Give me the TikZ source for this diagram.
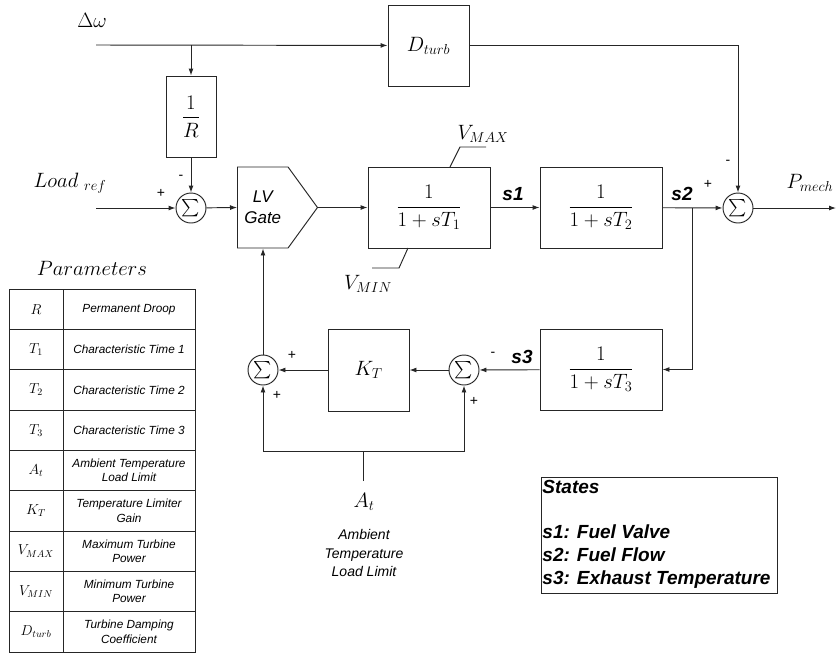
\documentclass[tikz,border=0pt]{standalone}
\usepackage{amsmath}
\usepackage{fontspec}
\setsansfont{Liberation Sans}
\usetikzlibrary{arrows.meta,shapes.symbols}

\begin{document}
\begin{tikzpicture}[
    x=1pt, y=-1pt,
    line width=0.95pt,
    draw=black!85,
    block/.style={draw=black!85, minimum width=122pt, minimum height=81pt, inner sep=0pt, font=\fontsize{20}{24}\selectfont},
    sumnode/.style={circle, draw=black!85, minimum size=30pt, inner sep=0pt, font=\fontsize{16}{16}\selectfont},
    sgn/.style={font=\sffamily\fontsize{14}{14}\selectfont},
    lbl/.style={font=\fontsize{20}{24}\selectfont},
    stateline/.style={font=\sffamily\bfseries\itshape\fontsize{19}{23}\selectfont},
    param/.style={font=\sffamily\itshape\fontsize{11.8}{14.5}\selectfont, align=center},
    >={Latex[length=7pt,width=5pt]}
]
\useasboundingbox (0,0) rectangle (836,654);

% ======================
% Upper path
% ======================
\node[lbl] (dwlabel) at (92,20) {$\Delta\omega$};
\coordinate (dwin) at (96,45);
\coordinate (jdroop) at (191,45);
\node[block, minimum width=81pt] (Dturb) at (428.5,45.5) {$D_{turb}$};
\node[block, minimum width=50pt] (invR) at (191,116.5) {$\dfrac{1}{R}$};

% ======================
% Forward path
% ======================
\node[lbl] (loadlabel) at (70,183) {$Load\;_{ref}$};
\coordinate (loadin) at (96,208);
\node[sumnode] (sum1) at (191,208) {$\sum$};
\node[draw=black!85, signal, signal to=east, signal pointer angle=108,
      minimum width=80pt, minimum height=81pt, inner sep=0pt, anchor=west,
      align=center, font=\sffamily\itshape\fontsize{17}{21}\selectfont] (lvgate) at (237,207.5) {LV\\Gate};
\node[block] (T1) at (429,207.5) {$\dfrac{1}{1+sT_1}$};
\node[block] (T2) at (601,207.5) {$\dfrac{1}{1+sT_2}$};
\node[sumnode] (sum2) at (738,208) {$\sum$};
\coordinate (jstate) at (692,208);
\coordinate (pout) at (836,208);
\node[lbl] (pmech) at (810,183) {$P_{mech}$};

% ======================
% Temperature loop
% ======================
\node[block] (T3) at (601,369.5) {$\dfrac{1}{1+sT_3}$};
\node[sumnode] (sum3) at (464,370) {$\sum$};
\node[block, minimum width=81pt, minimum height=82pt] (KT) at (368.5,370) {$K_T$};
\node[sumnode] (sum4) at (263,370) {$\sum$};
\coordinate (atin) at (363,481);
\coordinate (atsplit) at (363,451);

% ======================
% Connections
% ======================
\draw[->] (dwin) -- (Dturb);
\draw[->] (jdroop) -- (invR);
\draw[->] (Dturb.east) -| (sum2.north);
\draw[->] (invR) -- (sum1);
\draw[->] (loadin) -- (sum1);
\draw[->] (sum1) -- (lvgate.west);
\draw[->] (lvgate.east) -- (T1);
\draw[->] (T1) -- (T2);
\draw[->] (T2) -- (sum2);
\draw[->] (jstate) |- (T3.east);
\draw[->] (sum2) -- (pout);
\draw[->] (T3) -- (sum3);
\draw[->] (sum3) -- (KT);
\draw[->] (KT) -- (sum4);
\draw[->] (sum4) -- (sum4 |- lvgate.south);
\draw (atin) -- (atsplit);
\draw[->] (atsplit) -| (sum4);
\draw[->] (atsplit) -| (sum3);

% Limits on first lag
\draw (450,167) -- (460,147) -- (486,147);
\draw (408,248) -- (399,268) -- (372,268);
\node[lbl] (vmax) at (483,134) {$V_{MAX}$};
\node[lbl] (vmin) at (368,284) {$V_{MIN}$};

% ======================
% Signs and states
% ======================
\node[sgn] (m1) at (181,177) {-};
\node[sgn] (p1) at (161,193) {+};
\node[sgn] (p2) at (708,184) {+};
\node[sgn] (m2) at (728,162) {-};
\node[sgn] (m3) at (493,354) {-};
\node[sgn] (p3) at (474,401) {+};
\node[sgn] (p4) at (292,355) {+};
\node[sgn] (p5) at (277,395) {+};
\node[stateline] (s1) at (513,194) {s1};
\node[stateline] (s2) at (682,194) {s2};
\node[stateline] (s3) at (522,357) {s3};

% Ambient input label
\node[lbl] (atlabel) at (364,502) {$A_t$};
\node[font=\sffamily\itshape\fontsize{14}{18.5}\selectfont, align=center] (atdesc) at (364,553)
    {Ambient\\Temperature\\Load Limit};

% ======================
% States box
% ======================
\node[draw=black!85, anchor=north west, minimum width=236pt, minimum height=116pt, inner sep=0pt] (statebox) at (541,477) {};
\node[stateline, anchor=north west, align=left, inner sep=1pt] (statetext) at (541,479)
    {States\\[22pt]s1: Fuel Valve\\s2: Fuel Flow\\s3: Exhaust Temperature};

% ======================
% Parameters table
% ======================
\node[font=\fontsize{21.5}{24}\selectfont] (partitle) at (92,268) {$Parameters$};
\draw (9,289) rectangle (195,652);
\draw (63,289) -- (63,652);
\foreach \i in {1,...,8} {
    \draw (9,{289+\i*40.33}) -- (195,{289+\i*40.33});
}
\foreach \sym/\desc [count=\i] in {
    R/{Permanent Droop},
    T_1/{Characteristic Time 1},
    T_2/{Characteristic Time 2},
    T_3/{Characteristic Time 3},
    A_t/{Ambient Temperature\\Load Limit},
    K_T/{Temperature Limiter\\Gain},
    V_{MAX}/{Maximum Turbine\\Power},
    V_{MIN}/{Minimum Turbine\\Power},
    D_{turb}/{Turbine Damping\\Coefficient}} {
    \node[font=\fontsize{14.5}{16}\selectfont] (psym\i) at (36,{289+(\i-0.5)*40.33}) {$\sym$};
    \node[param] (pdesc\i) at (129,{289+(\i-0.5)*40.33}) {\desc};
}

\end{tikzpicture}
\end{document}
